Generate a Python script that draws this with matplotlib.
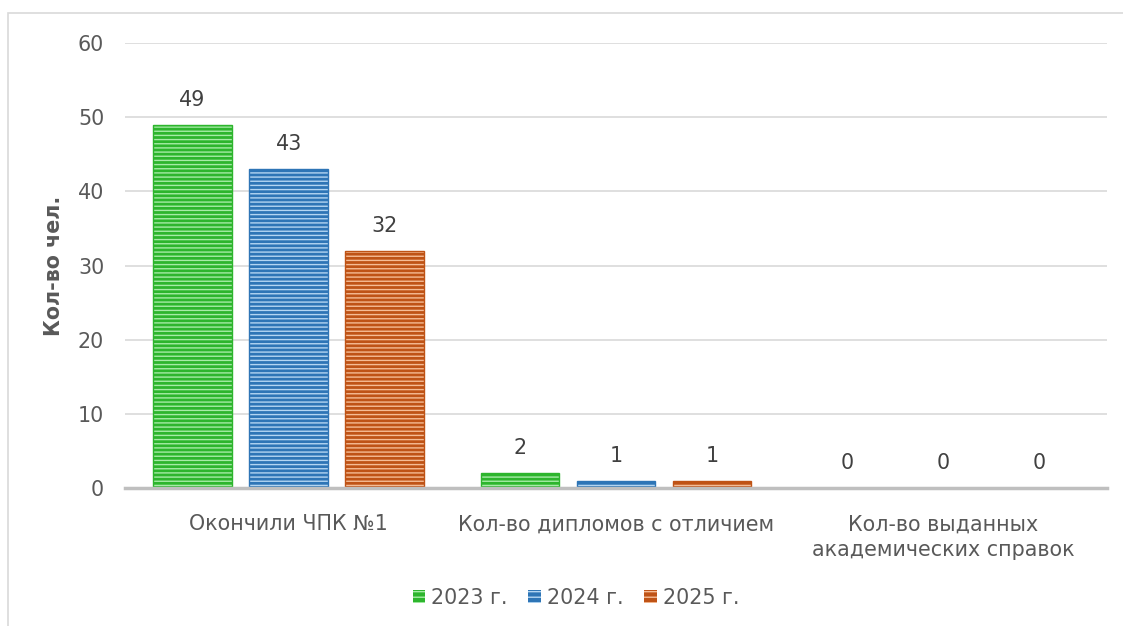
import matplotlib.pyplot as plt
import numpy as np
from matplotlib.patches import Rectangle

plt.rcParams['font.family'] = ['DejaVu Sans']

categories = ['Окончили ЧПК №1', 'Кол-во дипломов с отличием',
              'Кол-во выданных\nакадемических справок']
years = ['2023 г.', '2024 г.', '2025 г.']
v2023 = [49, 2, 0]
v2024 = [43, 1, 0]
v2025 = [32, 1, 0]
series = [v2023, v2024, v2025]
y_ticks = [0, 10, 20, 30, 40, 50, 60]

dark = ['#2db52d', '#2e75b6', '#bf5316']
light = ['#a6eba6', '#b3d5f2', '#f5bc95']
txt = '#595959'
fs = 14.9

fig = plt.figure(figsize=(11.23, 6.26), dpi=100)
ax = fig.add_axes([125 / 1123, 1 - 488 / 626, (1107 - 125) / 1123, (488 - 43) / 626])

# outer chart frame (only top and left visible in the crop)
fig.patches.append(Rectangle((8 / 1123, -0.1), 1.2, 1 - 13 / 626 + 0.1,
                             transform=fig.transFigure, fill=False,
                             edgecolor='#d9d9d9', linewidth=1.2))

x = np.arange(len(categories))
w = 0.24
step = 96 / 327
for i, vals in enumerate(series):
    pos = x + (i - 1) * step
    ax.bar(pos, vals, w, color=dark[i], edgecolor=light[i], hatch='----', linewidth=0, zorder=3)
    ax.bar(pos, vals, w, fill=False, edgecolor=dark[i], linewidth=1, zorder=4)
    for p, v in zip(pos, vals):
        ax.text(p, v + 2.0, str(v), ha='center', va='bottom', fontsize=fs, color='#404040')

ax.set_xlim(-0.5, 2.5)
ax.set_ylim(0, 60)
ax.set_yticks(y_ticks)
ax.set_xticks(x)
ax.set_xticklabels(categories, fontsize=fs, color=txt, linespacing=1.35)
ax.tick_params(axis='y', labelsize=fs, labelcolor=txt, length=0, pad=15)
ax.tick_params(axis='x', length=0, pad=19)
ax.yaxis.grid(True, color='#d9d9d9', linewidth=1.2)
ax.set_axisbelow(True)
for s in ['top', 'right', 'left']:
    ax.spines[s].set_visible(False)
ax.spines['bottom'].set_color('#bfbfbf')
ax.spines['bottom'].set_linewidth(2.5)
ax.spines['bottom'].set_zorder(5)
ax.set_ylabel('Кол-во чел.', fontsize=fs, fontweight='bold', color=txt, labelpad=10)

handles = [Rectangle((0, 0), 1, 1, facecolor=dark[i], edgecolor=light[i], hatch='---', linewidth=0)
           for i in range(3)]
fig.legend(handles, years, loc='center', bbox_to_anchor=(576 / 1123, 1 - 598 / 626), ncol=3,
           frameon=False, fontsize=fs, labelcolor=txt, handlelength=0.6, handleheight=0.6,
           handletextpad=0.3, columnspacing=1.0)

fig.savefig('out.png', dpi=100)
